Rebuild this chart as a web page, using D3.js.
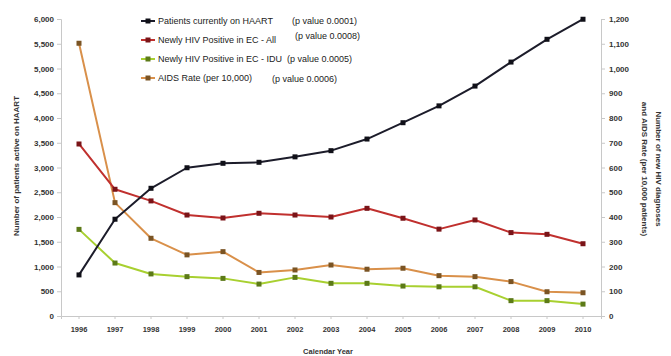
<!DOCTYPE html>
<html>
<head>
<meta charset="utf-8">
<script src="https://cdn.jsdelivr.net/npm/d3@7"></script>
<style>
  html, body { margin: 0; padding: 0; background: #fff; }
  svg { display: block; font-family: "Liberation Sans", Arial, sans-serif; }
</style>
</head>
<body>
<svg id="chart" width="671" height="356"></svg>
<script>
// Calendar years on the x axis
const years = ["1996","1997","1998","1999","2000","2001","2002","2003","2004","2005","2006","2007","2008","2009","2010"];

// Patients currently on HAART (left axis)
const haart = [830, 1955, 2580, 2995, 3085, 3105, 3215, 3340, 3575, 3905, 4245, 4645, 5130, 5590, 5995];
// Newly HIV positive in EC - All (right axis)
const newAll = [695, 512, 465, 408, 396, 415, 408, 400, 435, 395, 351, 388, 337, 330, 292];
// Newly HIV positive in EC - IDU (right axis)
const newIdu = [350, 214, 170, 159, 152, 129, 156, 132, 132, 121, 118, 118, 62, 62, 48];
// AIDS rate per 10,000 (right axis)
const aidsRate = [1102, 458, 314, 247, 260, 176, 186, 206, 189, 193, 163, 159, 139, 98, 94];

const leftTicks = [0, 500, 1000, 1500, 2000, 2500, 3000, 3500, 4000, 4500, 5000, 5500, 6000];
const rightTicks = [0, 100, 200, 300, 400, 500, 600, 700, 800, 900, 1000, 1100, 1200];

const legendLabels = [
  "Patients currently on HAART",
  "Newly HIV Positive in EC - All",
  "Newly HIV Positive in EC - IDU",
  "AIDS Rate (per 10,000)"
];
const pValues = ["(p value 0.0001)", "(p value 0.0008)", "(p value 0.0005)", "(p value 0.0006)"];

const svg = d3.select("#chart");
const plotL = 61, plotR = 601, plotT = 19, plotB = 316;

const x = d3.scaleBand().domain(years).range([plotL, plotR]);
const yL = d3.scaleLinear().domain([0, 6000]).range([plotB, plotT]);
const yR = d3.scaleLinear().domain([0, 1200]).range([plotB, plotT]);
const cx = d => x(d) + x.bandwidth() / 2;

const fmt = d3.format(",");

// Axes
const axisColor = "#c8c8c8";
const gL = svg.append("g").attr("transform", `translate(${plotL},0)`)
  .call(d3.axisLeft(yL).tickValues(leftTicks).tickFormat(fmt).tickSize(4).tickPadding(3));
const gR = svg.append("g").attr("transform", `translate(${plotR},0)`)
  .call(d3.axisRight(yR).tickValues(rightTicks).tickFormat(fmt).tickSize(4).tickPadding(4));
const gX = svg.append("g").attr("transform", `translate(0,${plotB})`)
  .call(d3.axisBottom(x).tickSize(3).tickPadding(8));

[gL, gR, gX].forEach(g => {
  g.selectAll("path, line").attr("stroke", axisColor);
  g.selectAll("text").attr("fill", "#333").attr("font-weight", "bold");
});
gL.selectAll("text").attr("font-size", "8px");
gR.selectAll("text").attr("font-size", "8px");
gX.selectAll("text").attr("font-size", "7.5px");

// Axis titles
svg.append("text")
  .attr("transform", "translate(19,166) rotate(-90)")
  .attr("text-anchor", "middle")
  .attr("font-size", "8px").attr("font-weight", "bold").attr("fill", "#333")
  .text("Number of patients active on HAART");

const rt = svg.append("text")
  .attr("transform", "translate(656,169) rotate(90)")
  .attr("text-anchor", "middle")
  .attr("font-size", "8px").attr("font-weight", "bold").attr("fill", "#333");
rt.append("tspan").attr("x", 0).attr("dy", 0).text("Number of new HIV diagnoses");
rt.append("tspan").attr("x", 0).attr("dy", "1.75em").text("and AIDS Rate (per 10,000 patients)");

svg.append("text")
  .attr("x", 328).attr("y", 354)
  .attr("text-anchor", "middle")
  .attr("font-size", "7.5px").attr("font-weight", "bold").attr("fill", "#333")
  .text("Calendar Year");

// Series definitions
const series = [
  { values: haart, y: yL, line: "#1c1c2a", mark: "#101018" },
  { values: newAll, y: yR, line: "#c0302e", mark: "#7a1418" },
  { values: newIdu, y: yR, line: "#a8d030", mark: "#5c7a18" },
  { values: aidsRate, y: yR, line: "#d9904a", mark: "#7a5424" }
];

// Draw from back to front: AIDS rate, IDU, All, HAART
[3, 2, 1, 0].forEach(i => {
  const s = series[i];
  const pts = years.map((yr, j) => [cx(yr), s.y(s.values[j])]);
  svg.append("path")
    .attr("d", d3.line()(pts))
    .attr("fill", "none")
    .attr("stroke", s.line)
    .attr("stroke-width", 2)
    .attr("stroke-linejoin", "round");
  svg.append("g").selectAll("rect").data(pts).join("rect")
    .attr("x", d => d[0] - 2.5).attr("y", d => d[1] - 2.5)
    .attr("width", 5).attr("height", 5)
    .attr("fill", s.mark);
});

// Legend
const legY = [21, 40, 59, 78];
const pPos = [[292, 21], [295, 36], [287, 59], [272, 79]];
series.forEach((s, i) => {
  const g = svg.append("g");
  g.append("line")
    .attr("x1", 141).attr("x2", 155).attr("y1", legY[i]).attr("y2", legY[i])
    .attr("stroke", s.line).attr("stroke-width", 2);
  g.append("rect")
    .attr("x", 145.5).attr("y", legY[i] - 2.5).attr("width", 5).attr("height", 5)
    .attr("fill", s.mark);
  g.append("text")
    .attr("x", 158).attr("y", legY[i]).attr("dy", "0.35em")
    .attr("font-size", "9px").attr("fill", "#222")
    .text(legendLabels[i]);
  g.append("text")
    .attr("x", pPos[i][0]).attr("y", pPos[i][1]).attr("dy", "0.35em")
    .attr("font-size", "9px").attr("fill", "#222")
    .text(pValues[i]);
});
</script>
</body>
</html>
